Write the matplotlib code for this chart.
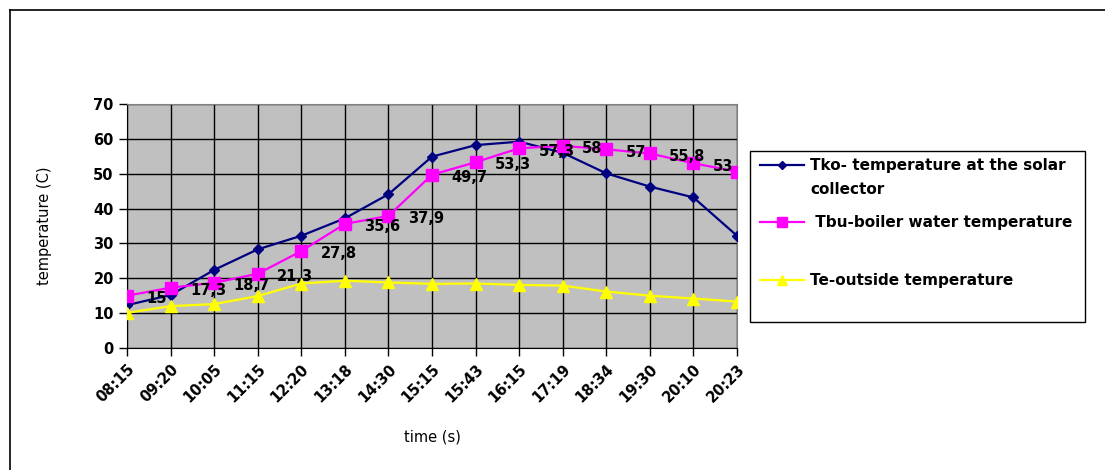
import matplotlib.pyplot as plt
from matplotlib.lines import Line2D
from matplotlib.patches import Rectangle

times = ['08:15', '09:20', '10:05', '11:15', '12:20', '13:18', '14:30', '15:15',
         '15:43', '16:15', '17:19', '18:34', '19:30', '20:10', '20:23']
tko = [12.3, 15.2, 22.4, 28.3, 32.2, 37.2, 44.1, 54.9, 58.2, 59.2, 56.0, 50.1, 46.3, 43.2, 32.2]
tbu = [15, 17.3, 18.7, 21.3, 27.8, 35.6, 37.9, 49.7, 53.3, 57.3, 58, 57, 55.8, 53, 50.6]
tbu_labels = ['15', '17,3', '18,7', '21,3', '27,8', '35,6', '37,9', '49,7',
              '53,3', '57,3', '58', '57', '55,8', '53', '']
te = [10.1, 12.0, 12.6, 14.9, 18.5, 19.3, 18.8, 18.4, 18.5, 18.1, 17.9, 16.2, 15.0, 14.2, 13.3]

names = ['Tko- temperature at the solar\ncollector', ' Tbu-boiler water temperature',
         'Te-outside temperature']
colors = ['#000080', '#ff00ff', '#ffff00']
markers = ['D', 's', '^']

W, H = 1105, 470
plt.rcParams['font.family'] = 'DejaVu Sans'

fig = plt.figure(figsize=(W / 100, H / 100), dpi=100)
ax = fig.add_axes([127 / W, 122 / H, 610 / W, 244 / H])

# outer chart frame (only top and left edges fall inside the image)
fig.add_artist(Line2D([10 / W, 10 / W], [0, 1 - 10 / H], color='black', lw=1.2))
fig.add_artist(Line2D([10 / W, 1], [1 - 10 / H, 1 - 10 / H], color='black', lw=1.2))

x = range(len(times))
ax.set_facecolor('#c0c0c0')
ax.plot(x, tko, color=colors[0], marker='D', ms=5, lw=1.6, zorder=3)
ax.plot(x, tbu, color=colors[1], marker='s', ms=8, lw=1.6, zorder=4)
ax.plot(x, te, color=colors[2], marker='^', ms=8, lw=1.6, zorder=3)

for i, (v, s) in enumerate(zip(tbu, tbu_labels)):
    if s:
        ax.annotate(s, (i, v), xytext=(14, -2), textcoords='offset points',
                    ha='left', va='center', fontsize=10.5, fontweight='bold', zorder=5)

ax.set_xlim(0, len(times) - 1)
ax.set_ylim(0, 70)
ax.set_yticks(range(0, 71, 10))
ax.set_xticks(list(x))
ax.set_xticklabels(times, rotation=45, ha='right', rotation_mode='anchor')
ax.grid(True, color='black', lw=1)
ax.set_axisbelow(True)
for sp in ax.spines.values():
    sp.set_color('#808080')
ax.spines['left'].set_color('black')
ax.spines['bottom'].set_color('black')
ax.tick_params(axis='both', direction='out', length=6, width=1, labelsize=10.5)
for lbl in ax.get_xticklabels() + ax.get_yticklabels():
    lbl.set_fontweight('bold')

ax.set_ylabel('temperature (C)', fontsize=10.5, labelpad=30)
ax.set_xlabel('time (s)', fontsize=10.5, labelpad=18)

# legend box drawn by hand
fig.add_artist(Rectangle((750 / W, 1 - 322 / H), 335 / W, 171 / H, transform=fig.transFigure,
                         facecolor='white', edgecolor='black', lw=1))
rows = [165, 222, 280]
msz = [4.5, 7, 7]
for name, c, m, ms, yy in zip(names, colors, markers, msz, rows):
    yf = 1 - yy / H
    fig.add_artist(Line2D([760 / W, 804 / W], [yf, yf], color=c, lw=1.6))
    fig.add_artist(Line2D([782 / W], [yf], color=c, marker=m, ms=ms))
    fig.text(810 / W, yf + 7 / H, name, ha='left', va='top', fontsize=11,
             fontweight='bold', linespacing=1.75)

fig.savefig('out.png', dpi=100)
